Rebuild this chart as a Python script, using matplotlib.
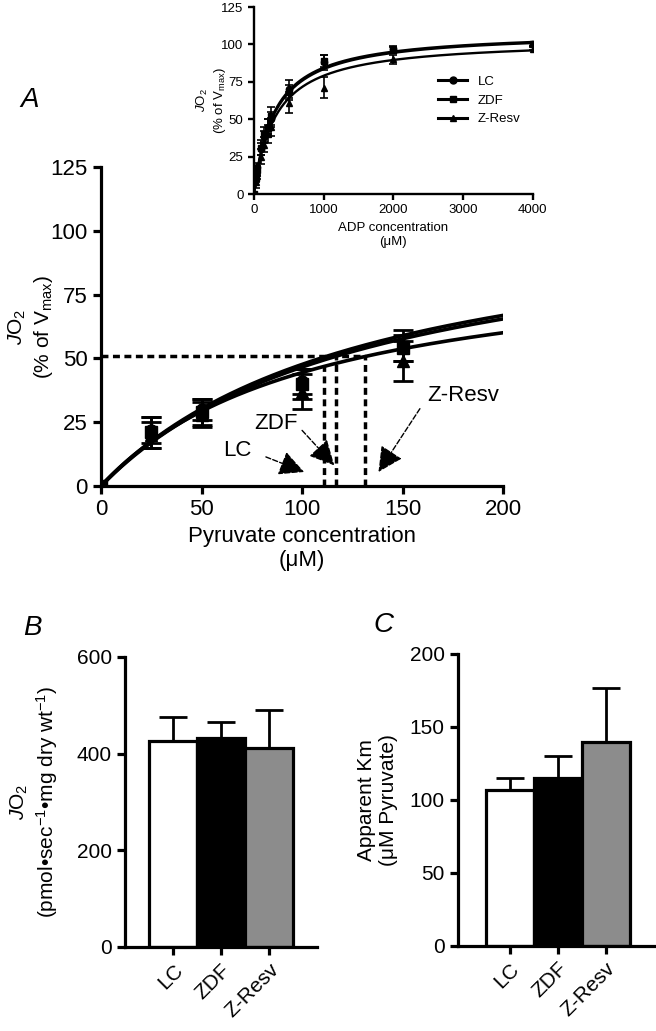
import numpy as np
import matplotlib.pyplot as plt

plt.rcParams['font.family'] = ['Liberation Sans', 'DejaVu Sans']
plt.rcParams['mathtext.fontset'] = 'custom'
plt.rcParams['mathtext.rm'] = 'Liberation Sans'
plt.rcParams['mathtext.it'] = 'Liberation Sans:italic'

# ---- data: panel A, pyruvate titration ----
groups = ['LC', 'ZDF', 'Z-Resv']
markers = ['o', 's', '^']
pyruvate = [0, 25, 50, 100, 150]
pyr_mean = {'LC': [0, 22, 30, 41, 55], 'ZDF': [0, 21, 29, 40, 54], 'Z-Resv': [0, 20, 28, 37, 49]}
pyr_err = {'LC': [0, 5, 4, 5, 6], 'ZDF': [0, 6, 5, 6, 5], 'Z-Resv': [0, 5, 5, 7, 8]}
# fitted Michaelis-Menten parameters (Vmax, Km)
pyr_fit_vmax = [112, 110, 92.5]
pyr_fit_km = [135, 136, 108]
half_level = 50.8
km_lines = [111, 117, 131.5]

# ---- inset: ADP titration ----
adp = [0, 25, 50, 100, 150, 200, 250, 500, 1000, 2000, 4000]
adp_mean = {'LC': [0, 13, 18, 30, 38, 45, 50, 70, 88, 97, 100],
            'ZDF': [0, 11, 16, 31, 40, 44, 52, 68, 89, 96, 100],
            'Z-Resv': [0, 8, 14, 25, 33, 40, 45, 61, 71, 90, 97]}
adp_err = {'LC': [0, 3, 3, 4, 4, 5, 5, 6, 5, 2, 1],
           'ZDF': [0, 3, 3, 5, 5, 6, 6, 5, 4, 2, 1],
           'Z-Resv': [0, 4, 4, 5, 5, 6, 6, 7, 7, 3, 1]}
adp_fit_vmax = [109, 108.5, 103.4]
adp_fit_km = [290, 300, 308]

# ---- panels B and C ----
bar_vals = [427, 432, 412]
bar_errs = [48, 33, 78]
km_vals = [107, 115, 140]
km_errs = [8, 15, 37]
bar_colors = ['white', 'black', '#8c8c8c']

LW = 2.3
JO2 = r'$\mathit{J}$O$_2$'

def style(ax, fs, lw=LW, tl=6):
    for s in ['top', 'right']:
        ax.spines[s].set_visible(False)
    for s in ['left', 'bottom']:
        ax.spines[s].set_linewidth(lw)
    ax.tick_params(width=lw, length=tl, labelsize=fs, direction='out')

fig = plt.figure(figsize=(6.56, 10.31), dpi=100)

# ---- Panel A ----
ax = fig.add_axes([0.154, 0.5286, 0.613, 0.3094])
style(ax, 16)
xs = np.linspace(0, 200, 300)
for g, m, vm, km in zip(groups, markers, pyr_fit_vmax, pyr_fit_km):
    ax.plot(xs, vm * xs / (km + xs), color='black', lw=2.6)
    ax.errorbar(pyruvate, pyr_mean[g], yerr=pyr_err[g], fmt=m, color='black',
                ms=8, capsize=7, elinewidth=2, capthick=2)
ax.plot([0, max(km_lines)], [half_level, half_level], ls=(0, (2, 1.3)), color='black', lw=2.5)
for k in km_lines:
    ax.plot([k, k], [0, half_level], ls=(0, (2, 1.3)), color='black', lw=2.5)
arrow = dict(arrowstyle='-|>,head_length=1.1,head_width=0.55', color='black', lw=1, ls='--',
             shrinkA=0, shrinkB=0, mutation_scale=14)
ax.annotate('', xy=(101, 5.5), xytext=(82, 11.4), arrowprops=arrow)
ax.annotate('', xy=(116, 8.1), xytext=(100, 21.8), arrowprops=arrow)
ax.annotate('', xy=(138, 5.5), xytext=(158.6, 30.3), arrowprops=arrow)
ax.text(68, 14, 'LC', fontsize=16, ha='center', va='center')
ax.text(87, 24.4, 'ZDF', fontsize=16, ha='center', va='center')
ax.text(180, 35.5, 'Z-Resv', fontsize=16, ha='center', va='center')
ax.set_xlim(0, 200)
ax.set_ylim(0, 125)
ax.set_xticks([0, 50, 100, 150, 200])
ax.set_yticks([0, 25, 50, 75, 100, 125])
ax.set_xlabel('Pyruvate concentration\n(\u03bcM)', fontsize=16)
ax.set_ylabel(JO2 + '\n(% of V$_{\\mathrm{max}}$)', fontsize=15)
ax.yaxis.set_label_coords(-0.115, 0.5)
ax.text(-0.2, 1.21, 'A', transform=ax.transAxes, fontsize=20, style='italic', va='center')

# ---- inset ----
ai = fig.add_axes([0.387, 0.8118, 0.425, 0.1814])
style(ai, 9.5, lw=1.7, tl=4)
xa = np.linspace(0, 4000, 400)
for g, m, vm, km in zip(groups, markers, adp_fit_vmax, adp_fit_km):
    ai.plot(xa, vm * xa / (km + xa), color='black', lw=1.7)
    ai.errorbar(adp, adp_mean[g], yerr=adp_err[g], fmt=m, color='black', ms=4.5,
                capsize=3, elinewidth=1.2, capthick=1.2)
hs = [plt.Line2D([], [], color='black', marker=m, lw=2.2, ms=5) for m in markers]
ai.legend(hs, groups, loc='center right', bbox_to_anchor=(1.0, 0.5), frameon=False,
          fontsize=9.5, handlelength=2.2, labelspacing=0.5)
ai.set_xlim(0, 4000)
ai.set_ylim(0, 125)
ai.set_xticks([0, 1000, 2000, 3000, 4000])
ai.set_yticks([0, 25, 50, 75, 100, 125])
ai.set_xlabel('ADP concentration\n(\u03bcM)', fontsize=9.5)
ai.set_ylabel(JO2 + '\n(% of V$_{\\mathrm{max}}$)', fontsize=9.5)
ai.yaxis.set_label_coords(-0.093, 0.5)

# ---- Panel B ----
ab = fig.add_axes([0.1905, 0.0815, 0.2927, 0.2813])
style(ab, 15)
xb = np.arange(len(groups))
ab.bar(xb, bar_vals, width=1.0, color=bar_colors, edgecolor='black', linewidth=LW)
ab.errorbar(xb, bar_vals, yerr=[[0] * 3, bar_errs], fmt='none', ecolor='black',
            elinewidth=2, capsize=10, capthick=2)
ab.set_xlim(-1, 3)
ab.set_ylim(0, 600)
ab.set_yticks([0, 200, 400, 600])
ab.set_xticks(xb)
ab.set_xticklabels(groups, rotation=45, ha='right', rotation_mode='anchor')
ab.set_ylabel(JO2 + '\n(pmol\u2022sec$^{-1}$\u2022mg dry wt$^{-1}$)', fontsize=15)
ab.yaxis.set_label_coords(-0.34, 0.5)
ab.text(-0.53, 1.1, 'B', transform=ab.transAxes, fontsize=20, style='italic', va='center')

# ---- Panel C ----
ac = fig.add_axes([0.698, 0.0825, 0.300, 0.2832])
style(ac, 15)
ac.bar(xb, km_vals, width=1.0, color=bar_colors, edgecolor='black', linewidth=LW)
ac.errorbar(xb, km_vals, yerr=[[0] * 3, km_errs], fmt='none', ecolor='black',
            elinewidth=2, capsize=10, capthick=2)
ac.set_xlim(-1.08, 3.02)
ac.set_ylim(0, 200)
ac.set_yticks([0, 50, 100, 150, 200])
ac.set_xticks(xb)
ac.set_xticklabels(groups, rotation=45, ha='right', rotation_mode='anchor')
ac.set_ylabel('Apparent Km\n(\u03bcM Pyruvate)', fontsize=15)
ac.yaxis.set_label_coords(-0.305, 0.5)
ac.text(-0.43, 1.1, 'C', transform=ac.transAxes, fontsize=20, style='italic', va='center')

fig.savefig('out.png', dpi=100)
